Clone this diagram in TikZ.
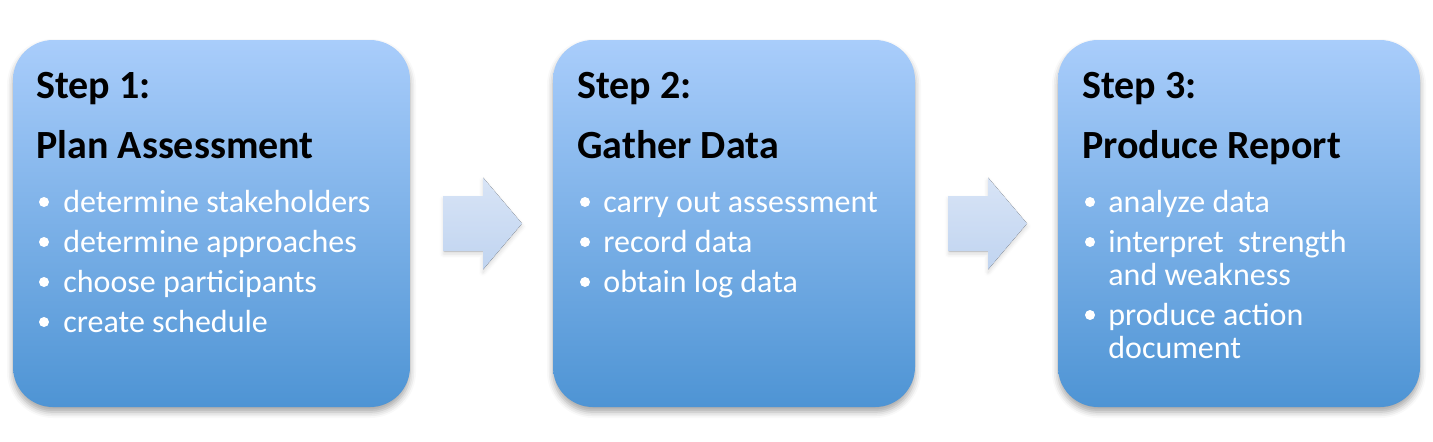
\documentclass[tikz,border=0pt]{standalone}
\usepackage{fontspec}
\setmainfont{Carlito}
\usetikzlibrary{shadows.blur,calc}
\definecolor{boxtop}{RGB}{169,205,251}
\definecolor{boxbot}{RGB}{78,148,212}
\definecolor{arrtop}{RGB}{216,228,246}
\definecolor{arrbot}{RGB}{192,212,240}
\begin{document}
\begin{tikzpicture}[
                    x=0.5pt, y=-0.5pt,
                    stepbox/.style={rectangle, rounded corners=20pt, top color=boxtop, bottom color=boxbot, minimum height=183.5pt,
                                    blur shadow={shadow xshift=0pt, shadow yshift=-2.5pt, shadow blur radius=3pt, shadow opacity=35}},
                    title/.style={anchor=base west, inner sep=0pt, font=\bfseries\fontsize{20}{22}\selectfont},
                    dot/.style={circle, fill=white, inner sep=0pt, minimum size=5pt},
                    item/.style={anchor=base west, inner sep=0pt, text=white, align=left, font=\fontsize{16}{16.5}\selectfont},
                    flow/.style={top color=arrtop, bottom color=arrbot,
                                 blur shadow={shadow xshift=0pt, shadow yshift=-1.5pt, shadow blur radius=2pt, shadow opacity=15}}
                    ]

                    \useasboundingbox (0,0) rectangle (1433,441);

                    % the three steps
                    \node [stepbox, minimum width=198.5pt] (b1) at (211.5,223.5) {};
                    \node [stepbox, minimum width=181pt] (b2) at (734,223.5) {};
                    \node [stepbox, minimum width=181pt] (b3) at (1239,223.5) {};

                    \node [title] (t1) at (36,98) {Step 1:};
                    \node [title] (h1) at (36,158) {Plan Assessment};
                    \node [dot] (d11) at (44,202) {};
                    \node [item] (i11) at (63,212) {determine stakeholders};
                    \node [dot] (d12) at (44,242) {};
                    \node [item] (i12) at (63,252) {determine approaches};
                    \node [dot] (d13) at (44,282) {};
                    \node [item] (i13) at (63,292) {choose participants};
                    \node [dot] (d14) at (44,322) {};
                    \node [item] (i14) at (63,332) {create schedule};

                    \node [title] (t2) at (577,98) {Step 2:};
                    \node [title] (h2) at (577,158) {Gather Data};
                    \node [dot] (d21) at (585,202) {};
                    \node [item] (i21) at (603,212) {carry out assessment};
                    \node [dot] (d22) at (585,242) {};
                    \node [item] (i22) at (603,252) {record data};
                    \node [dot] (d23) at (585,282) {};
                    \node [item] (i23) at (603,292) {obtain log data};

                    \node [title] (t3) at (1082,98) {Step 3:};
                    \node [title] (h3) at (1082,158) {Produce Report};
                    \node [dot] (d31) at (1090,202) {};
                    \node [item] (i31) at (1108,212) {analyze data};
                    \node [dot] (d32) at (1090,242) {};
                    \node [item] (i32) at (1108,285) {interpret~ strength\\and weakness};
                    \node [dot] (d33) at (1090,315) {};
                    \node [item] (i33) at (1108,358) {produce action\\document};

                    % block arrows between the steps
                    \coordinate (a1) at ($(b1.east)!0.5!(b2.west)$);
                    \coordinate (a2) at ($(b2.east)!0.5!(b3.west)$);
                    \foreach \a in {a1,a2}
                        \fill[flow] ($(\a)+(-38,-27.5)$) -- ++(39.5,0) -- ++(0,-18.5) -- ++(39,46)
                                    -- ++(-39,46) -- ++(0,-18.5) -- ++(-39.5,0) -- cycle;
                \end{tikzpicture}
\end{document}
